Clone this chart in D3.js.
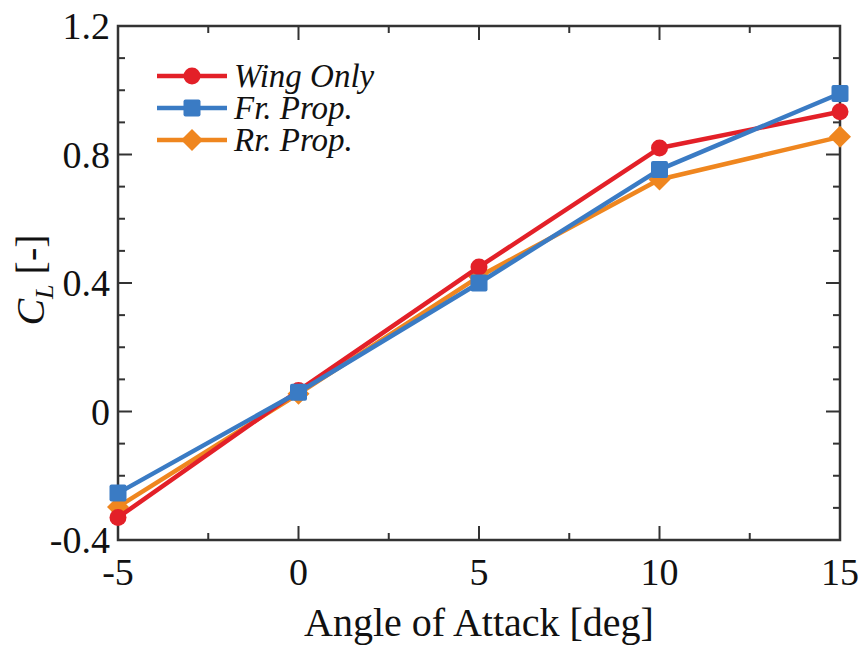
<!DOCTYPE html>
<html>
<head>
<meta charset="utf-8">
<script src="https://cdn.jsdelivr.net/npm/d3@7"></script>
<style>
  body { margin: 0; background: #fff; }
  svg text { font-family: "Liberation Serif", "DejaVu Serif", serif; fill: #111; }
</style>
</head>
<body>
<svg id="chart" width="863" height="646"></svg>
<script>
// angle of attack [deg]
const angles = [-5, 0, 5, 10, 15];

// lift coefficient for each configuration
const wingOnly = [-0.33, 0.065, 0.45, 0.82, 0.933];
const frProp   = [-0.254, 0.06, 0.40, 0.753, 0.99];
const rrProp   = [-0.297, 0.055, 0.42, 0.722, 0.855];

const seriesNames = ["Wing Only", "Fr. Prop.", "Rr. Prop."];
const xTicks = [-5, 0, 5, 10, 15];
const yTicks = [-0.4, 0, 0.4, 0.8, 1.2];

let svg = d3.select("#chart");
let margin = {left: 118, right: 23, top: 26, bottom: 106};
let width = 863 - margin.left - margin.right,
    height = 646 - margin.top - margin.bottom;

let x = d3.scaleLinear().domain([-5, 15]).range([margin.left, margin.left + width]);
let y = d3.scaleLinear().domain([-0.4, 1.2]).range([margin.top + height, margin.top]);

let series = [
    {name: seriesNames[2], values: rrProp, color: "#ef861f", shape: "diamond"},
    {name: seriesNames[0], values: wingOnly, color: "#e32028", shape: "circle"},
    {name: seriesNames[1], values: frProp, color: "#3a7bc4", shape: "square"}
];

// frame ticks (inward, on all four sides)
let xMinor = d3.range(-5, 15.01, 2.5);
let yMinor = d3.range(-0.4, 1.201, 0.1);
let tickG = svg.append("g").attr("stroke", "#333").attr("stroke-width", 2);

xMinor.forEach(function(v) {
    let major = xTicks.some(t => Math.abs(t - v) < 1e-6);
    let len = major ? 14 : 7;
    tickG.append("line").attr("x1", x(v)).attr("x2", x(v))
        .attr("y1", y(-0.4)).attr("y2", y(-0.4) - len);
    tickG.append("line").attr("x1", x(v)).attr("x2", x(v))
        .attr("y1", y(1.2)).attr("y2", y(1.2) + len);
});
yMinor.forEach(function(v) {
    let major = yTicks.some(t => Math.abs(t - v) < 1e-6);
    let len = major ? 14 : 7;
    tickG.append("line").attr("y1", y(v)).attr("y2", y(v))
        .attr("x1", x(-5)).attr("x2", x(-5) + len);
    tickG.append("line").attr("y1", y(v)).attr("y2", y(v))
        .attr("x1", x(15)).attr("x2", x(15) - len);
});

svg.append("rect")
    .attr("x", margin.left).attr("y", margin.top)
    .attr("width", width).attr("height", height)
    .attr("fill", "none").attr("stroke", "#333").attr("stroke-width", 2.5);

// tick labels
svg.append("g").selectAll("text").data(xTicks).enter().append("text")
    .attr("x", d => x(d)).attr("y", y(-0.4) + 45)
    .attr("text-anchor", "middle").attr("font-size", 38)
    .text(d => d);

svg.append("g").selectAll("text").data(yTicks).enter().append("text")
    .attr("x", margin.left - 8).attr("y", d => y(d) + 13)
    .attr("text-anchor", "end").attr("font-size", 38)
    .text(d => d === 0 ? "0" : d.toFixed(1));

// axis titles
svg.append("text")
    .attr("x", x(5)).attr("y", 636)
    .attr("text-anchor", "middle").attr("font-size", 40)
    .text("Angle of Attack [deg]");

let yTitle = svg.append("text")
    .attr("transform", "translate(44," + (y(0.4) - 3) + ") rotate(-90)")
    .attr("text-anchor", "middle").attr("font-size", 40);
yTitle.append("tspan").attr("font-style", "italic").text("C");
yTitle.append("tspan").attr("font-style", "italic").attr("font-size", 26).attr("dy", 9).text("L");
yTitle.append("tspan").attr("dy", -9).text(" [-]");

// markers
function drawMarker(g, shape, cx, cy, color) {
    if (shape === "circle") {
        g.append("circle").attr("cx", cx).attr("cy", cy).attr("r", 8.5).attr("fill", color);
    } else if (shape === "square") {
        g.append("rect").attr("x", cx - 8.5).attr("y", cy - 8.5)
            .attr("width", 17).attr("height", 17).attr("rx", 2).attr("fill", color);
    } else {
        let s = 11;
        g.append("path")
            .attr("d", `M ${cx} ${cy - s} L ${cx + s} ${cy} L ${cx} ${cy + s} L ${cx - s} ${cy} Z`)
            .attr("fill", color);
    }
}

let line = d3.line().x(d => x(d[0])).y(d => y(d[1]));

series.forEach(function(s) {
    let pts = angles.map((a, i) => [a, s.values[i]]);
    let g = svg.append("g");
    g.append("path").datum(pts)
        .attr("d", line)
        .attr("fill", "none").attr("stroke", s.color).attr("stroke-width", 4.5)
        .attr("stroke-linejoin", "round");
    pts.forEach(p => drawMarker(g, s.shape, x(p[0]), y(p[1]), s.color));
});

// legend
let legendOrder = [series[1], series[2], series[0]];
let legend = svg.append("g");
legendOrder.forEach(function(s, i) {
    let ly = 76 + i * 32;
    legend.append("line").attr("x1", 157).attr("x2", 227)
        .attr("y1", ly).attr("y2", ly)
        .attr("stroke", s.color).attr("stroke-width", 4.5);
    drawMarker(legend, s.shape, 192, ly, s.color);
    legend.append("text").attr("x", 234).attr("y", ly + 11)
        .attr("font-size", 33).attr("font-style", "italic")
        .text(s.name);
});
</script>
</body>
</html>
